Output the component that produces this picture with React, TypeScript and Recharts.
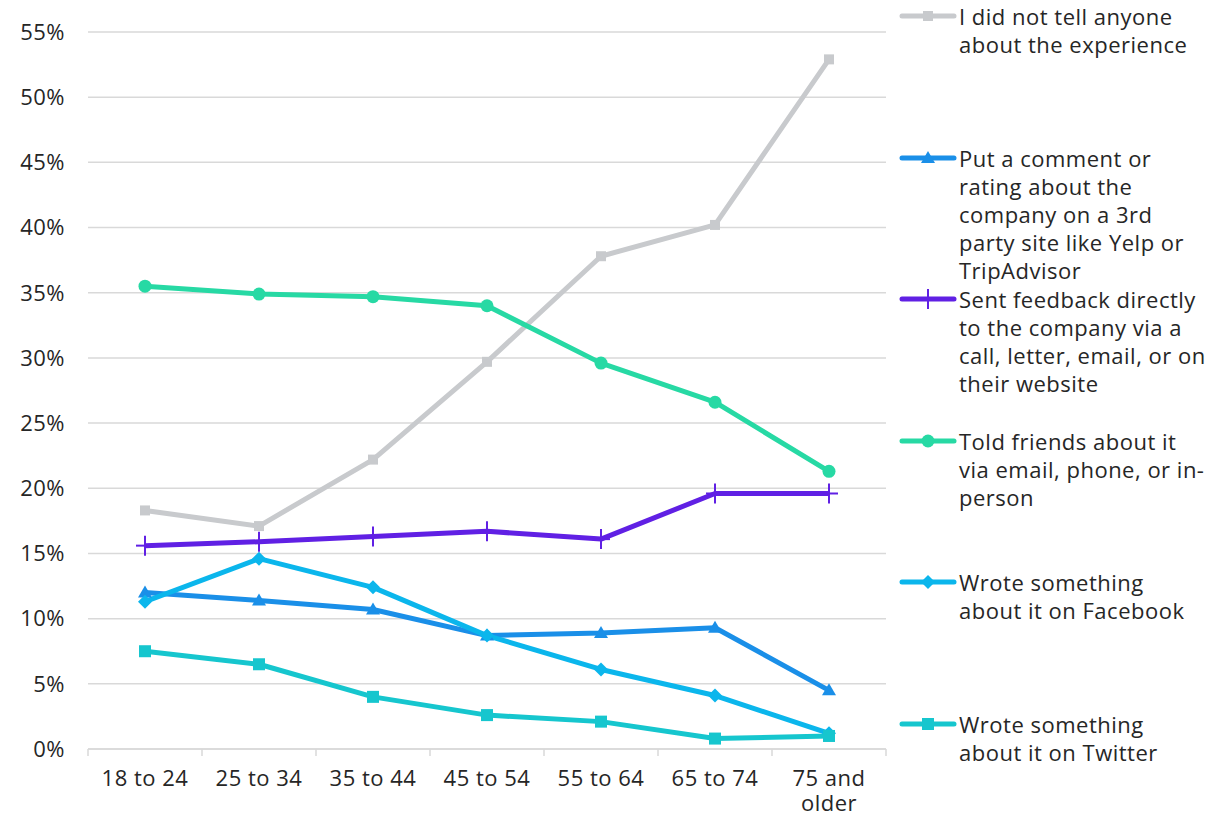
import React from "react";
import { LineChart, Line, XAxis, YAxis, CartesianGrid } from "recharts";

const ageGroups = ["18 to 24", "25 to 34", "35 to 44", "45 to 54", "55 to 64", "65 to 74", "75 and older"];

const didNotTell = [18.3, 17.1, 22.2, 29.7, 37.8, 40.2, 52.9];
const thirdParty = [12.0, 11.4, 10.7, 8.7, 8.9, 9.3, 4.5];
const sentFeedback = [15.6, 15.9, 16.3, 16.7, 16.1, 19.6, 19.6];
const toldFriends = [35.5, 34.9, 34.7, 34.0, 29.6, 26.6, 21.3];
const facebook = [11.3, 14.6, 12.4, 8.7, 6.1, 4.1, 1.2];
const twitter = [7.5, 6.5, 4.0, 2.6, 2.1, 0.8, 1.0];

const yTicks = [0, 5, 10, 15, 20, 25, 30, 35, 40, 45, 50, 55];

const FONT = "'Open Sans', Lato, sans-serif";
const TEXT = "#262626";
const FS = 22;
const LS = 0.5;

type Marker = "square" | "triangle" | "plus" | "circle" | "diamond" | "bigsquare";

const series: { key: string; values: number[]; color: string; marker: Marker; lines: string[] }[] = [
  { key: "didNotTell", values: didNotTell, color: "#c8cacd", marker: "square", lines: ["I did not tell anyone", "about the experience"] },
  { key: "thirdParty", values: thirdParty, color: "#1a8fe8", marker: "triangle", lines: ["Put a comment or", "rating about the", "company on a 3rd", "party site like Yelp or", "TripAdvisor"] },
  { key: "sentFeedback", values: sentFeedback, color: "#6020e4", marker: "plus", lines: ["Sent feedback directly", "to the company via a", "call, letter, email, or on", "their website"] },
  { key: "toldFriends", values: toldFriends, color: "#27d9a4", marker: "circle", lines: ["Told friends about it", "via email, phone, or in-", "person"] },
  { key: "facebook", values: facebook, color: "#0bb6ec", marker: "diamond", lines: ["Wrote something", "about it on Facebook"] },
  { key: "twitter", values: twitter, color: "#16c6ce", marker: "bigsquare", lines: ["Wrote something", "about it on Twitter"] },
];

const data = ageGroups.map((g, i) => {
  const row: Record<string, string | number> = { group: g };
  series.forEach((s) => {
    row[s.key] = s.values[i];
  });
  return row;
});

function drawMarker(marker: Marker, cx: number, cy: number, color: string, key?: string | number) {
  switch (marker) {
    case "square":
      return <rect key={key} x={cx - 5} y={cy - 5} width={10} height={10} fill={color} />;
    case "bigsquare":
      return <rect key={key} x={cx - 6} y={cy - 6} width={12} height={12} fill={color} />;
    case "triangle":
      return <path key={key} d={`M${cx},${cy - 7} L${cx + 7},${cy + 5} L${cx - 7},${cy + 5} Z`} fill={color} />;
    case "plus":
      return (
        <g key={key}>
          <line x1={cx} y1={cy - 10} x2={cx} y2={cy + 10} stroke={color} strokeWidth={2} />
          <line x1={cx - 9} y1={cy} x2={cx + 9} y2={cy} stroke={color} strokeWidth={2} />
        </g>
      );
    case "circle":
      return <circle key={key} cx={cx} cy={cy} r={6.5} fill={color} />;
    case "diamond":
      return <path key={key} d={`M${cx},${cy - 7} L${cx + 7},${cy} L${cx},${cy + 7} L${cx - 7},${cy} Z`} fill={color} />;
  }
}

function XTick(props: any) {
  const { x, y, payload, index, visibleTicksCount } = props;
  const label: string = payload.value;
  const half = payload.offset || 0;
  const parts = label.length > 8 ? [label.slice(0, label.lastIndexOf(" ")), label.slice(label.lastIndexOf(" ") + 1)] : [label];
  const last = index === visibleTicksCount - 1;
  return (
    <g>
      <line x1={x - half} y1={y} x2={x - half} y2={y + 7} stroke="#d9d9d9" strokeWidth={1.5} />
      {last && <line x1={x + half} y1={y} x2={x + half} y2={y + 7} stroke="#d9d9d9" strokeWidth={1.5} />}
      <text x={x} y={y + 37} textAnchor="middle" fill={TEXT} fontSize={FS} fontFamily={FONT} letterSpacing={LS}>
        {parts.map((p, i) => (
          <tspan key={i} x={x} dy={i === 0 ? 0 : 25}>
            {p}
          </tspan>
        ))}
      </text>
    </g>
  );
}

function LegendBlock() {
  return (
    <div
      style={{
        position: "absolute",
        left: 898,
        top: 0,
        width: 326,
        height: 818,
        fontFamily: FONT,
        color: TEXT,
        fontSize: FS,
        letterSpacing: LS,
      }}
    >
      {series.map((s, i) => {
        const top = 2 + i * 141.5;
        return (
          <div key={s.key} style={{ position: "absolute", left: 0, top, width: 326 }}>
            <svg width={60} height={28} style={{ position: "absolute", left: 0, top: 0 }}>
              <line x1={4} y1={14} x2={56} y2={14} stroke={s.color} strokeWidth={5} strokeLinecap="round" />
              {drawMarker(s.marker, 30, 14, s.color)}
            </svg>
            <div style={{ position: "absolute", left: 61, top: 0, lineHeight: "28px", whiteSpace: "nowrap", textAlign: "left" }}>
              {s.lines.map((l, j) => (
                <div key={j}>{l}</div>
              ))}
            </div>
          </div>
        );
      })}
    </div>
  );
}

export default function App() {
  return (
    <div style={{ position: "absolute", left: 0, top: 0, width: 1224, height: 818, background: "#fff" }}>
      <LineChart width={1224} height={818} data={data} margin={{ top: 32, right: 338, bottom: 0, left: 0 }}>
        <CartesianGrid vertical={false} stroke="#d9d9d9" strokeWidth={1.5} />
        <XAxis
          dataKey="group"
          scale="band"
          height={69}
          axisLine={{ stroke: "#d9d9d9", strokeWidth: 1.5 }}
          tickLine={false}
          tickSize={0}
          tickMargin={0}
          interval={0}
          tick={<XTick />}
        />
        <YAxis
          width={88}
          domain={[0, 55]}
          ticks={yTicks}
          tickFormatter={(v: number) => `${v}%`}
          axisLine={false}
          tickLine={false}
          tickSize={0}
          tickMargin={23}
          tick={{ fill: TEXT, fontSize: FS, fontFamily: FONT, letterSpacing: LS }}
        />
        {series.map((s) => (
          <Line
            key={s.key}
            dataKey={s.key}
            stroke={s.color}
            strokeWidth={5}
            strokeLinejoin="round"
            isAnimationActive={false}
            dot={(p: any) => drawMarker(s.marker, p.cx, p.cy, s.color, `${s.key}-${p.index}`)}
            activeDot={false}
          />
        ))}
      </LineChart>
      <LegendBlock />
    </div>
  );
}
